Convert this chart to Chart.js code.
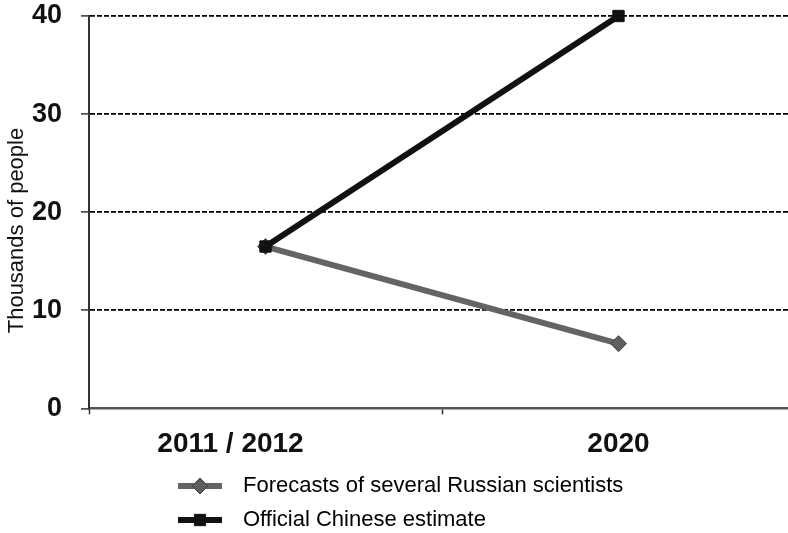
<!DOCTYPE html>
<html lang="en">
<head>
    <meta charset="UTF-8">
    <title>Forecasts vs official estimate</title>
    <script src="https://cdn.jsdelivr.net/npm/chart.js"></script>
    <style>
        html, body { margin: 0; padding: 0; background: #fff; overflow: hidden; }
        #wrap { width: 788px; height: 533px; overflow: hidden; }
        #forecastChart { display: block; }
    </style>
</head>
<body>
    <div id="wrap"><canvas id="forecastChart" width="796" height="533"></canvas></div>

    <script>
        // data
        const categories = ['2011 / 2012', '2020'];
        const russianForecast = [16.5, 6.6];
        const chineseEstimate = [16.5, 40];
        const yTicks = [0, 10, 20, 30, 40];

        const seriesNames = ['Forecasts of several Russian scientists', 'Official Chinese estimate'];

        const FONT = "'Liberation Sans', Arial, sans-serif";

        // legend stacked in two rows under the x labels
        const stackedLegend = {
            id: 'stackedLegend',
            afterDraw(chart, args, opts) {
                const ctx = chart.ctx;
                ctx.save();
                chart.data.datasets.forEach((ds, i) => {
                    const y = opts.top + i * opts.rowGap;
                    ctx.strokeStyle = ds.borderColor;
                    ctx.lineWidth = ds.borderWidth;
                    ctx.setLineDash([]);
                    ctx.beginPath();
                    ctx.moveTo(opts.left, y);
                    ctx.lineTo(opts.left + opts.lineLen, y);
                    ctx.stroke();
                    ctx.fillStyle = ds.pointBackgroundColor;
                    ctx.strokeStyle = ds.pointBorderColor;
                    ctx.lineWidth = ds.pointBorderWidth;
                    Chart.helpers.drawPoint(ctx, {
                        pointStyle: ds.pointStyle,
                        radius: ds.pointRadius,
                        rotation: 0,
                        borderWidth: ds.pointBorderWidth
                    }, opts.left + opts.lineLen / 2, y);
                    ctx.fillStyle = '#000';
                    ctx.font = opts.font;
                    ctx.textAlign = 'left';
                    ctx.textBaseline = 'middle';
                    ctx.fillText(ds.label, opts.left + opts.lineLen + opts.textGap, y);
                });
                ctx.restore();
            }
        };

        const ctx = document.getElementById('forecastChart').getContext('2d');
        new Chart(ctx, {
            type: 'line',
            data: {
                labels: categories,
                datasets: [{
                    label: seriesNames[0],
                    data: russianForecast,
                    borderColor: '#646464',
                    borderWidth: 6,
                    pointStyle: 'rectRot',
                    pointRadius: 8,
                    pointBackgroundColor: '#5e5e5e',
                    pointBorderColor: '#444',
                    pointBorderWidth: 1,
                    clip: false,
                    order: 1
                }, {
                    label: seriesNames[1],
                    data: chineseEstimate,
                    borderColor: '#111',
                    borderWidth: 6,
                    pointStyle: 'rect',
                    pointRadius: 8,
                    pointBackgroundColor: '#111',
                    pointBorderColor: '#111',
                    pointBorderWidth: 1,
                    clip: false,
                    order: 0
                }]
            },
            options: {
                responsive: false,
                animation: false,
                layout: { autoPadding: false, padding: { top: 0, right: 1, bottom: 59, left: 0 } },
                plugins: {
                    legend: { display: false },
                    tooltip: { enabled: false },
                    stackedLegend: {
                        left: 178, lineLen: 44, textGap: 21,
                        top: 486, rowGap: 34,
                        font: '22px ' + FONT
                    }
                },
                scales: {
                    x: {
                        offset: true,
                        afterFit: s => { s.paddingLeft = 0; s.paddingRight = 0; },
                        grid: {
                            offset: true,
                            drawOnChartArea: false,
                            drawTicks: true,
                            tickLength: 6,
                            tickColor: '#333',
                            tickWidth: 1.5
                        },
                        border: { color: '#555', width: 2.5 },
                        ticks: {
                            padding: 13,
                            color: '#111',
                            font: { family: FONT, size: 28, weight: 'bold' },
                            // first label sits left of its point
                            callback: (v, i) => i === 0 ? categories[i] + '         ' : categories[i]
                        }
                    },
                    y: {
                        min: 0,
                        max: 40,
                        afterFit: s => { s.width = 89; s.paddingTop = 16; s.paddingBottom = 0; },
                        afterBuildTicks: s => { s.ticks = yTicks.map(v => ({ value: v })); },
                        grid: {
                            color: c => c.tick && c.tick.value === 0 ? 'rgba(0,0,0,0)' : '#000',
                            lineWidth: 1.8,
                            tickLength: 8,
                            tickColor: '#333',
                            tickWidth: 1.5,
                            tickBorderDash: []
                        },
                        border: { color: '#333', width: 2, dash: [5, 2] },
                        ticks: {
                            padding: 19,
                            color: '#111',
                            font: { family: FONT, size: 27, weight: 'bold' }
                        },
                        title: {
                            display: true,
                            text: 'Thousands of people      ',
                            color: '#111',
                            font: { family: FONT, size: 22 },
                            padding: { top: 4, bottom: 4 }
                        }
                    }
                }
            },
            plugins: [stackedLegend]
        });
    </script>
</body>
</html>
